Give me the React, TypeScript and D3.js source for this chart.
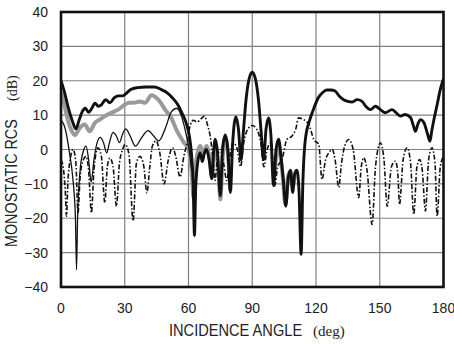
import * as d3 from 'd3';

// angle (deg) / RCS (dB) readings for each curve
const xTicks = [0, 30, 60, 90, 120, 150, 180];
const yTicks = [-40, -30, -20, -10, 0, 10, 20, 30, 40];

const thickBlack: [number, number][] = [
  [0, 20], [1.5, 17], [3.5, 12], [5.5, 8], [7, 6], [8.5, 8.5], [10, 11], [11.5, 12], [13, 10.8],
  [14.5, 12], [16, 13.5], [17.5, 12.6], [19, 13], [21, 14.5], [23, 13.6], [25, 15], [27, 15.6],
  [29, 15.6], [31, 16.5], [33, 17.5], [36, 18], [40, 18.2], [44, 18.2], [47, 17.5], [50, 16.5],
  [52.5, 15], [55, 13], [57, 10.5], [59, 7.5], [60.5, 3.5], [61.5, -2], [62.2, -10], [62.8, -25],
  [63.4, -11], [64.5, -3], [65.5, -1], [66.5, -3.5], [67.5, -1], [68.5, 0], [69.7, -3], [71, -8.5],
  [71.8, -1], [72.6, 3], [73.5, 0], [75, -13.5], [76, 0], [77.3, 4.2], [78.5, 0], [79.7, -12.5],
  [80.8, 2], [82.3, 9.5], [83.5, 6], [84.7, -3], [85.8, 5], [87, 14], [88.5, 20.5], [90, 22.5],
  [91.5, 20.5], [93, 14], [94.2, 5], [95.3, -3], [96.5, 6], [97.7, 9.2], [98.8, 4], [100, -10.5],
  [101.2, 0], [102.4, 3], [103.5, -2], [104.5, -8], [105.8, -16.5], [107, -8], [108, -6],
  [109, -12.5], [110, -7], [111, -6], [112, -12], [113, -30.5], [113.8, -10], [115, 3], [117, 8.5],
  [119, 12], [121, 15], [123, 16.5], [125, 17.3], [127, 17.3], [129, 17], [131, 15.5], [133, 14.5],
  [135, 14], [137, 13.8], [139.3, 14.5], [141.7, 14], [143.5, 12.5], [145.6, 11.6], [148, 12.6],
  [150.3, 11.6], [152.7, 10.7], [155.8, 11.6], [158, 10.5], [159.7, 9.7], [162, 10.2], [164.5, 9.3],
  [165.8, 7], [166.8, 5.3], [168, 7.5], [169.2, 8.7], [170.8, 7.8], [172.5, 4.5], [173.6, 2.4],
  [174.5, 5.5], [175.5, 8.7], [177, 13], [178.5, 17.5], [180, 20.5],
];

const thickGray: ([number, number] | null)[] = [
  [0, 16.5], [1.7, 12.6], [3.5, 8], [5, 5.5], [6.6, 4.2], [8.8, 6.3], [11.2, 7.3], [13.5, 5.3],
  [15.9, 7.7], [18.2, 8.7], [20.6, 9.7], [23.7, 10.7], [26.9, 11.6], [30, 13], [32, 13.6], [34, 13.6],
  [37.2, 14], [39.6, 13.6], [42.5, 15.8], [45.8, 14.5], [49, 11.6], [52, 9], [54.5, 5.5], [57.6, 2.2],
  [60, 0], [61, -4], [61.8, -9], [62.3, -14], [63, -6], [64, -2], [65.5, 1], [67, -1], [68.5, 1],
  [70, -3], [71, -8], [72.5, 2], [74, -5], [75, -14.5], [76, -3], [77.3, 3.5], [78.5, -1], [79.7, -12],
  null,
  [100, -10], [101.5, -1], [102.4, 2], [103.5, -3], [104.5, -9], [105.6, -16], [106.8, -8], [108, -6.5],
  [109, -11], [110, -7],
];

const thinBlack: [number, number][] = [
  [0, 8.7], [2, 6], [4, -1], [5.5, -8], [6.8, -20], [7.3, -35], [7.8, -20], [9, -6], [10.5, -0.5],
  [11.8, 1], [13, -3], [14.2, -9.5], [15.5, -3], [17, 2], [18.5, 3.5], [20, 2], [21.5, -1], [22.8, 2],
  [24.5, 5], [26, 4], [27.5, 2], [29, 4.5], [30.5, 6], [32.5, 4], [35, 1], [38, 3.5], [41, 5.5],
  [43.5, 4], [46, 2.5], [49, 6], [52, 11], [54.5, 12], [56.5, 10], [58.5, 5.5], [60, 1], [61.5, -6],
];

const dashDot: [number, number][] = [
  [0, -3], [1, -5], [2, -12], [2.6, -19.4], [3.2, -10], [4.3, -3], [5.7, 0], [7, -4], [8, -18.5],
  [9, -8], [10.5, -3], [11.8, -2], [13, -6], [14.3, -18.4], [15.5, -6], [17.4, 0.5], [19, -2],
  [20.6, -15.5], [21.8, -5], [23, -2.5], [24.5, -5], [26.1, -16.5], [27.5, -4], [29, 0], [30.2, 1.5],
  [32, -1.5], [33.9, -20.8], [35.5, -4], [37.2, -2], [39, -5], [40.4, -12.6], [41.8, -5], [43, 1],
  [44.8, 2.5], [46.5, -1], [48.5, -10], [50.5, -3], [52.5, 0.5], [54, -2], [56, -8], [57.8, -2],
  [59.2, 1.5], [60.8, 7], [62.3, 8.5], [64, 8], [66, 9], [67.5, 9.7], [69, 7], [70.2, 3.9],
  [71.5, -3], [72.5, -9], [73.5, -3], [75, 0], [76.5, -4], [78, -9], [79.5, -2], [81, 2], [83, 0],
  [84.5, -5], [86, 2], [88, 6], [90, 7], [92, 6], [94, 2], [95.5, -5], [97, 0], [99, 2],
  [100.5, -10.7], [102, -5], [104, -2.9], [106.3, 2.9], [108.7, 3.9], [110.5, 6], [111.8, 9.2],
  [114.2, 8.7], [116.6, 7.3], [119, 2.9], [121.3, 1.5], [122.8, -8.7], [124.5, -3], [126, -1],
  [127.6, 0], [129, -3], [130.7, -11], [132, -4], [133.5, 1], [135.4, 2.9], [137.5, 0], [140.1, -14],
  [141.3, -5], [142.5, -2.4], [144, -6], [146.4, -21.8], [148, -5], [150.3, 1.9], [152, -3],
  [153.5, -16.5], [155.5, -5], [157.4, -3.4], [158.5, -7], [159.3, -16], [161, -3], [162.9, 0.5],
  [164.5, -4], [166, -18.9], [167.5, -5], [168.8, -2.9], [170, -6], [171.5, -17.9], [173, -3],
  [174.6, 0.5], [176, -4], [177, -19.4], [178.5, -5], [180, -2],
];

const W = 454;
const H = 344;
const margin = { left: 61, right: 10.5, top: 12, bottom: 57 };

const App = () => {
  const x = d3.scaleLinear().domain([0, 180]).range([margin.left, W - margin.right]);
  const y = d3.scaleLinear().domain([-40, 40]).range([H - margin.bottom, margin.top]);

  const line = d3.line<[number, number] | null>()
    .defined(d => d !== null)
    .x(d => x(d![0]))
    .y(d => y(d![1]))
    .curve(d3.curveMonotoneX);

  const font = '"Liberation Sans", Arial, sans-serif';
  const serif = '"Liberation Serif", serif';
  const x0 = x(0), x1 = x(180), yTop = y(40), yBot = y(-40);

  return (
    <svg width={W} height={H} style={{ position: 'absolute', left: 0, top: 0, background: '#fff' }}>
      <defs>
        <clipPath id="plot">
          <rect x={x0} y={yTop} width={x1 - x0} height={yBot - yTop} />
        </clipPath>
      </defs>
      {/* grid */}
      {xTicks.slice(1, -1).map(t => (
        <line key={'gx' + t} x1={x(t)} x2={x(t)} y1={yTop} y2={yBot} stroke="#808080" strokeWidth={1.2} />
      ))}
      {yTicks.slice(1, -1).map(t => (
        <line key={'gy' + t} x1={x0} x2={x1} y1={y(t)} y2={y(t)} stroke="#808080" strokeWidth={1.2} />
      ))}
      <g clipPath="url(#plot)" fill="none" strokeLinejoin="round">
        <path d={line(thickGray) ?? ''} stroke="#9a9a9a" strokeWidth={4} />
        <path d={line(dashDot) ?? ''} stroke="#111" strokeWidth={1.6} strokeDasharray="5,2,1.5,2" />
        <path d={line(thinBlack) ?? ''} stroke="#111" strokeWidth={1.3} />
        <path d={line(thickBlack) ?? ''} stroke="#111" strokeWidth={2.9} />
      </g>
      <rect x={x0} y={yTop} width={x1 - x0} height={yBot - yTop} fill="none" stroke="#111" strokeWidth={2.6} />
      {/* tick labels */}
      {yTicks.map(t => (
        <text key={'ty' + t} x={48} y={y(t) + 5} textAnchor="end" fontFamily={font} fontSize={14} fill="#222">
          {t < 0 ? '\u2212' + Math.abs(t) : t}
        </text>
      ))}
      {xTicks.map(t => (
        <text key={'tx' + t} x={x(t)} y={313} textAnchor="middle" fontFamily={font} fontSize={14} fill="#222">
          {t}
        </text>
      ))}
      {/* axis titles, horizontally condensed like the original */}
      <text transform="translate(169,336) scale(0.86,1)" fontFamily={font} fontSize={17} fill="#222">
        INCIDENCE ANGLE
      </text>
      <text x={313} y={336} fontFamily={serif} fontSize={15} fill="#222">
        (deg)
      </text>
      <text transform="translate(17,247) rotate(-90) scale(0.845,1)" fontFamily={font} fontSize={17} fill="#222">
        MONOSTATIC RCS
      </text>
      <text transform="translate(17,101) rotate(-90)" fontFamily={serif} fontSize={14} fill="#222">
        (dB)
      </text>
    </svg>
  );
};

export default App;
